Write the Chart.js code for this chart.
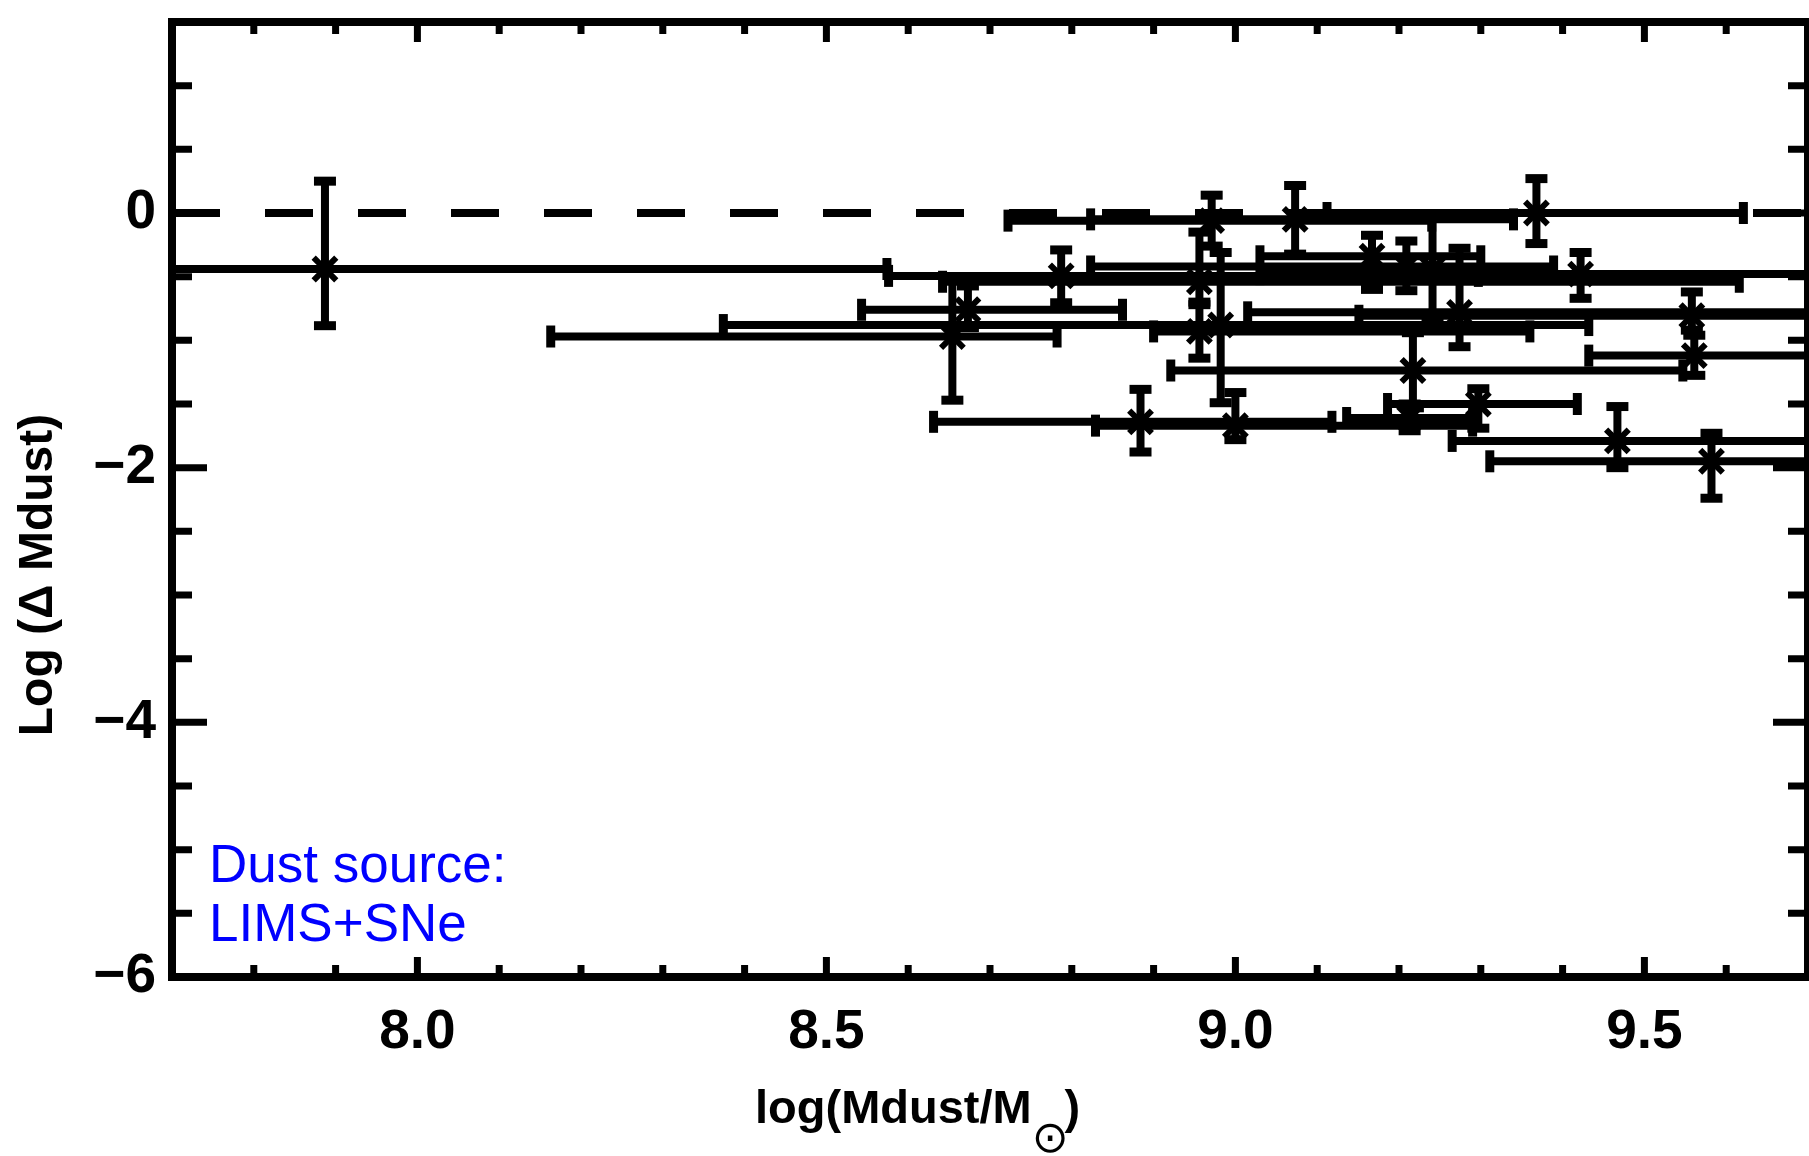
<!DOCTYPE html>
<html>
<head>
<meta charset="utf-8">
<script src="https://cdn.jsdelivr.net/npm/chart.js@4.4.1/dist/chart.umd.min.js"></script>
<style>
  html, body { margin: 0; padding: 0; background: #fff; overflow: hidden; }
  #wrap { width: 1830px; height: 1156px; }
</style>
</head>
<body>
<div id="wrap"><canvas id="dustChart" width="1830" height="1156"></canvas></div>
<script>
// points: log(Mdust/Msun) and log(delta Mdust)
const PT_X = [7.887, 8.654, 8.673, 8.787, 8.971, 9.073, 8.956, 8.956, 8.982, 8.884, 9.000, 9.167,
              9.209, 9.241, 9.274, 9.217, 9.213, 9.297, 9.368, 9.422, 9.467, 9.558, 9.561, 9.582];
const PT_Y = [-0.44, -0.97, -0.76, -0.494, -0.06, -0.05, -0.54, -0.93, -0.88, -1.64, -1.67, -0.34,
              -0.42, -0.44, -0.78, -1.237, -1.61, -1.50, 0.0, -0.48, -1.79, -0.807, -1.12, -1.95];
// horizontal error bars (low / high end)
const X_LO = [7.20, 8.163, 8.543, 8.576, 8.722, 8.823, 8.642, 8.90, 8.374, 8.631, 8.829, 9.03,
              8.823, 9.241, 9.015, 8.921, 9.136, 9.186, 9.112, 9.03, 9.265, 9.151, 9.432, 9.311];
const X_HI = [8.574, 8.782, 8.862, 9.297, 9.24, 9.34, 9.616, 9.36, 9.432, 9.118, 9.29, 9.30,
              9.389, 9.241, 9.76, 9.547, 9.29, 9.418, 9.621, 9.85, 9.75, 9.85, 9.80, 9.85];
// vertical error bars
const Y_LO = [-0.885, -1.47, -0.90, -0.705, -0.26, -0.323, -0.70, -1.14, -1.49, -1.877, -1.78, -0.60,
              -0.61, -0.855, -1.05, -1.53, -1.71, -1.69, -0.24, -0.67, -2.0, -0.92, -1.275, -2.24];
const Y_HI = [0.25, -0.50, -0.573, -0.29, 0.14, 0.216, -0.15, -0.72, -0.31, -1.385, -1.41, -0.175,
              -0.22, -0.04, -0.277, -0.94, -1.50, -1.38, 0.27, -0.31, -1.52, -0.62, -0.96, -1.73];

// dashed reference line at zero
const REF_X = [7.7, 9.7];
const REF_Y = [0, 0];

const X_TICKS = [8.0, 8.5, 9.0, 9.5];
const Y_TICKS = [0, -2, -4, -6];

const FONT = '"Liberation Sans", Arial, Helvetica, sans-serif';

//Error bars drawn under the asterisks
const errorBars = {
  id: "errorBars",
  beforeDatasetsDraw(chart) {
    const { ctx, chartArea: a, scales } = chart;
    const sx = scales.x, sy = scales.y;
    const seg = (x0, y0, x1, y1) => {
      ctx.beginPath();
      ctx.moveTo(x0, y0);
      ctx.lineTo(x1, y1);
      ctx.stroke();
    };
    ctx.save();
    ctx.beginPath();
    ctx.rect(a.left, a.top, a.right - a.left, a.bottom - a.top);
    ctx.clip();
    ctx.strokeStyle = "#000";
    ctx.lineCap = "butt";
    for (let i = 0; i < PT_X.length; i++) {
      const px = sx.getPixelForValue(PT_X[i]);
      const py = sy.getPixelForValue(PT_Y[i]);
      if (X_LO[i] !== X_HI[i]) {
        const x0 = sx.getPixelForValue(X_LO[i]);
        const x1 = sx.getPixelForValue(X_HI[i]);
        ctx.lineWidth = 8;
        seg(x0, py, x1, py);
        ctx.lineWidth = 9;
        seg(x0, py - 11, x0, py + 11);
        seg(x1, py - 11, x1, py + 11);
      }
      const y0 = sy.getPixelForValue(Y_LO[i]);
      const y1 = sy.getPixelForValue(Y_HI[i]);
      ctx.lineWidth = 8;
      seg(px, y0, px, y1);
      ctx.lineWidth = 9;
      seg(px - 11, y0, px + 11, y0);
      seg(px - 11, y1, px + 11, y1);
    }
    ctx.restore();
  },
};

//Box, inward ticks and texts
const frame = {
  id: "frame",
  afterDraw(chart) {
    const { ctx, chartArea: a, scales } = chart;
    const sx = scales.x, sy = scales.y;
    ctx.save();
    ctx.strokeStyle = "#000";
    ctx.lineWidth = 8;
    ctx.strokeRect(a.left, a.top, a.right - a.left, a.bottom - a.top);

    ctx.lineWidth = 7;
    for (let k = 78; k <= 96; k++) {
      const px = sx.getPixelForValue(k / 10);
      const len = k % 5 === 0 ? 20 : 12;
      ctx.beginPath();
      ctx.moveTo(px, a.bottom);
      ctx.lineTo(px, a.bottom - len);
      ctx.moveTo(px, a.top);
      ctx.lineTo(px, a.top + len);
      ctx.stroke();
    }
    for (let k = 1; k < 15; k++) {
      const v = -6 + k * 0.5;
      const py = sy.getPixelForValue(v);
      const len = v % 2 === 0 ? 35 : 20;
      ctx.beginPath();
      ctx.moveTo(a.left, py);
      ctx.lineTo(a.left + len, py);
      ctx.moveTo(a.right, py);
      ctx.lineTo(a.right - len, py);
      ctx.stroke();
    }

    // y title
    ctx.fillStyle = "#000";
    ctx.save();
    ctx.translate(a.left - 120, a.top + 553);
    ctx.rotate(-Math.PI / 2);
    ctx.font = "bold 48px " + FONT;
    ctx.textAlign = "center";
    ctx.textBaseline = "alphabetic";
    ctx.fillText("Log (\u0394 Mdust)", 0, 0);
    ctx.restore();

    // x title with sun symbol subscript
    ctx.textAlign = "left";
    ctx.textBaseline = "alphabetic";
    ctx.font = "bold 47px " + FONT;
    const main = "log(Mdust/M";
    let tx = a.left + 583;
    const ty = a.bottom + 146;
    ctx.fillText(main, tx, ty);
    tx += ctx.measureText(main).width;
    ctx.font = '44px "DejaVu Sans"';
    ctx.fillText("\u2299", tx, ty + 29);
    const sw = ctx.measureText("\u2299").width;
    ctx.font = "bold 47px " + FONT;
    ctx.fillText(")", tx + sw - 4, ty);

    // note
    ctx.fillStyle = "#0000ff";
    ctx.font = "53px " + FONT;
    ctx.fillText("Dust source:", a.left + 37, a.top + 860);
    ctx.fillText("LIMS+SNe", a.left + 37, a.top + 919);
    ctx.restore();
  },
};

const points = PT_X.map((x, i) => ({ x: x, y: PT_Y[i] }));
const refLine = REF_X.map((x, i) => ({ x: x, y: REF_Y[i] }));

const config = {
  type: "scatter",
  data: {
    datasets: [
      {
        type: "line",
        data: refLine,
        borderColor: "#000",
        borderWidth: 8,
        borderDash: [48, 45],
        pointRadius: 0,
        fill: false,
        order: 2,
      },
      {
        data: points,
        pointStyle: "star",
        pointRadius: 16,
        pointBorderWidth: 6,
        borderColor: "#000",
        backgroundColor: "#000",
        order: 1,
      },
    ],
  },
  options: {
    responsive: false,
    animation: false,
    devicePixelRatio: 1,
    layout: { padding: { top: 17, right: 11, left: 0, bottom: 0 } },
    scales: {
      x: {
        type: "linear",
        position: "bottom",
        min: 7.7,
        max: 9.7,
        grid: { display: false, drawTicks: false },
        border: { display: false },
        afterBuildTicks: (s) => { s.ticks = X_TICKS.map((v) => ({ value: v })); },
        afterFit: (s) => {
          s.height = 179;
          s.paddingLeft = 0;
          s.paddingRight = 0;
        },
        ticks: {
          color: "#000",
          padding: 23,
          maxRotation: 0,
          autoSkip: false,
          font: { family: FONT, size: 55, weight: "bold" },
          callback: (v) => Number(v).toFixed(1),
        },
      },
      y: {
        type: "linear",
        position: "left",
        min: -6,
        max: 1.5,
        grid: { display: false, drawTicks: false },
        border: { display: false },
        afterBuildTicks: (s) => { s.ticks = Y_TICKS.map((v) => ({ value: v })); },
        afterFit: (s) => {
          s.width = 172;
          s.paddingTop = 0;
          s.paddingBottom = 0;
        },
        ticks: {
          color: "#000",
          padding: 16,
          autoSkip: false,
          font: { family: FONT, size: 55, weight: "bold" },
          callback: (v) => (v < 0 ? "\u2212" + Math.abs(v) : String(v)),
        },
      },
    },
    plugins: {
      legend: { display: false },
      tooltip: { enabled: false },
    },
  },
  plugins: [errorBars, frame],
};

var dustChart = new Chart(document.getElementById("dustChart"), config);
</script>
</body>
</html>
